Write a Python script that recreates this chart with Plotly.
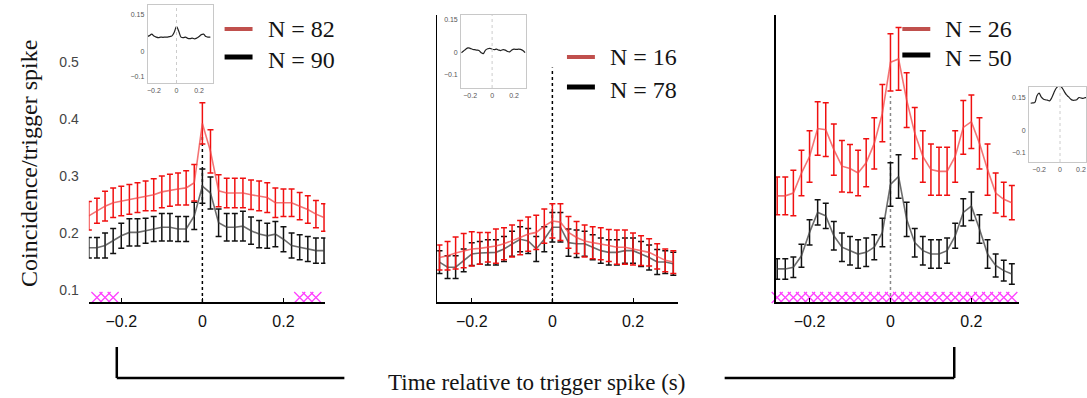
import plotly.graph_objects as go

W, H = 1087, 398

# time bins (s)
t = [-0.28, -0.26, -0.24, -0.22, -0.20, -0.18, -0.16, -0.14, -0.12, -0.10,
     -0.08, -0.06, -0.04, -0.02, 0.00, 0.02, 0.04, 0.06, 0.08, 0.10,
     0.12, 0.14, 0.16, 0.18, 0.20, 0.22, 0.24, 0.26, 0.28, 0.30]

# Panel 1
p1_red = [0.230, 0.239, 0.247, 0.253, 0.256, 0.259, 0.262, 0.265, 0.267, 0.272,
          0.275, 0.277, 0.279, 0.288, 0.392, 0.343, 0.274, 0.270, 0.270, 0.270,
          0.267, 0.265, 0.262, 0.253, 0.253, 0.253, 0.247, 0.241, 0.233, 0.227]
p1_red_err = [0.025, 0.022, 0.026, 0.026, 0.026, 0.026, 0.026, 0.026, 0.028, 0.028,
              0.028, 0.028, 0.030, 0.032, 0.036, 0.038, 0.028, 0.026, 0.026, 0.026,
              0.026, 0.026, 0.026, 0.026, 0.024, 0.024, 0.024, 0.024, 0.024, 0.024]
p1_blk = [0.174, 0.174, 0.178, 0.186, 0.195, 0.201, 0.201, 0.204, 0.207, 0.210,
          0.210, 0.207, 0.207, 0.230, 0.282, 0.270, 0.218, 0.210, 0.210, 0.212,
          0.204, 0.198, 0.195, 0.198, 0.189, 0.178, 0.175, 0.172, 0.169, 0.169]
p1_blk_err = [0.018, 0.018, 0.022, 0.022, 0.022, 0.024, 0.024, 0.022, 0.022, 0.024,
              0.024, 0.022, 0.022, 0.024, 0.030, 0.028, 0.024, 0.024, 0.024, 0.026,
              0.024, 0.024, 0.022, 0.022, 0.022, 0.022, 0.022, 0.022, 0.022, 0.022]
p1_sig = [-0.26, -0.24, -0.22, 0.24, 0.26, 0.28]

# Panel 2
p2_red = [0.157, 0.160, 0.165, 0.169, 0.172, 0.173, 0.175, 0.177, 0.181, 0.186,
          0.192, 0.198, 0.201, 0.212, 0.221, 0.219, 0.201, 0.192, 0.186, 0.183,
          0.181, 0.178, 0.175, 0.175, 0.172, 0.169, 0.166, 0.159, 0.152, 0.149]
p2_red_err = [0.022, 0.025, 0.028, 0.030, 0.030, 0.028, 0.026, 0.030, 0.028, 0.028,
              0.030, 0.030, 0.030, 0.030, 0.030, 0.032, 0.028, 0.028, 0.028, 0.028,
              0.028, 0.028, 0.030, 0.030, 0.028, 0.026, 0.024, 0.022, 0.020, 0.020]
p2_blk = [0.149, 0.140, 0.140, 0.152, 0.163, 0.165, 0.166, 0.166, 0.172, 0.181,
          0.189, 0.186, 0.172, 0.189, 0.210, 0.210, 0.183, 0.181, 0.181, 0.175,
          0.169, 0.166, 0.166, 0.169, 0.169, 0.163, 0.157, 0.149, 0.149, 0.146]
p2_blk_err = [0.020, 0.020, 0.020, 0.020, 0.020, 0.020, 0.022, 0.022, 0.022, 0.022,
              0.022, 0.022, 0.022, 0.022, 0.026, 0.026, 0.024, 0.024, 0.022, 0.022,
              0.022, 0.022, 0.022, 0.022, 0.022, 0.022, 0.022, 0.022, 0.020, 0.020]

# Panel 3
p3_red = [0.265, 0.265, 0.270, 0.305, 0.334, 0.383, 0.381, 0.346, 0.317, 0.313,
          0.305, 0.323, 0.357, 0.410, 0.499, 0.505, 0.433, 0.375, 0.334, 0.311,
          0.308, 0.308, 0.334, 0.385, 0.395, 0.357, 0.311, 0.270, 0.259, 0.253]
p3_red_err = [0.033, 0.033, 0.040, 0.040, 0.045, 0.047, 0.047, 0.045, 0.045, 0.042,
              0.040, 0.042, 0.045, 0.050, 0.050, 0.055, 0.048, 0.045, 0.045, 0.045,
              0.042, 0.042, 0.045, 0.047, 0.047, 0.045, 0.045, 0.035, 0.030, 0.030]
p3_blk = [0.137, 0.137, 0.140, 0.160, 0.201, 0.236, 0.230, 0.195, 0.175, 0.169,
          0.163, 0.166, 0.175, 0.201, 0.285, 0.299, 0.224, 0.183, 0.169, 0.163,
          0.163, 0.169, 0.195, 0.236, 0.247, 0.207, 0.163, 0.143, 0.134, 0.128]
p3_blk_err = [0.018, 0.018, 0.018, 0.020, 0.022, 0.022, 0.022, 0.025, 0.025, 0.025,
              0.025, 0.025, 0.022, 0.025, 0.038, 0.038, 0.030, 0.025, 0.025, 0.025,
              0.025, 0.022, 0.022, 0.024, 0.025, 0.025, 0.025, 0.020, 0.018, 0.018]
p3_sig = t

# inset traces
ins1 = [0.060, 0.062, 0.066, 0.072, 0.064, 0.060, 0.058, 0.060, 0.059, 0.060,
        0.060, 0.062, 0.065, 0.080, 0.102, 0.084, 0.060, 0.058, 0.060, 0.055,
        0.054, 0.056, 0.053, 0.056, 0.062, 0.070, 0.072, 0.062, 0.060, 0.060]
ins2 = [0.000, 0.008, 0.016, 0.022, 0.020, 0.016, 0.014, 0.012, 0.010, 0.000,
        -0.004, 0.012, 0.018, 0.020, 0.016, 0.014, 0.016, 0.012, 0.010, 0.014,
        0.012, 0.006, 0.004, 0.012, 0.016, 0.015, 0.016, 0.015, 0.010, 0.000]
ins3 = [0.126, 0.128, 0.130, 0.160, 0.172, 0.155, 0.146, 0.142, 0.140, 0.137,
        0.150, 0.172, 0.192, 0.202, 0.205, 0.196, 0.180, 0.165, 0.156, 0.146,
        0.140, 0.140, 0.142, 0.152, 0.150, 0.148, 0.152, 0.150, 0.150, 0.150]

legend_n = [("N = 82", "N = 90"), ("N = 16", "N = 78"), ("N = 26", "N = 50")]
main_ticks_y = [0.1, 0.2, 0.3, 0.4, 0.5]
main_ticks_x = [-0.2, 0, 0.2]


def px(x):
    return x / W


def py(y):
    return 1 - y / H


RED = "#f01010"
RED_LINE = "rgba(240,70,70,0.75)"
BLK = "#111111"
BLK_LINE = "rgba(60,60,60,0.75)"
MAG = "#ff40ff"

fig = go.Figure()

panels = [
    (p1_red, p1_red_err, p1_blk, p1_blk_err, p1_sig, "x", "y"),
    (p2_red, p2_red_err, p2_blk, p2_blk_err, [], "x2", "y2"),
    (p3_red, p3_red_err, p3_blk, p3_blk_err, p3_sig, "x3", "y3"),
]
for red, rerr, blk, berr, sig, xa, ya in panels:
    fig.add_trace(go.Scatter(x=t, y=blk, mode="lines", xaxis=xa, yaxis=ya,
                             line=dict(color=BLK_LINE, width=1.6),
                             error_y=dict(type="data", array=berr, color=BLK,
                                          thickness=1.5, width=3),
                             showlegend=False, hoverinfo="skip"))
    fig.add_trace(go.Scatter(x=t, y=red, mode="lines", xaxis=xa, yaxis=ya,
                             line=dict(color=RED_LINE, width=1.6),
                             error_y=dict(type="data", array=rerr, color=RED,
                                          thickness=1.5, width=3),
                             showlegend=False, hoverinfo="skip"))
    if sig:
        fig.add_trace(go.Scatter(x=sig, y=[0.087] * len(sig), mode="markers",
                                 xaxis=xa, yaxis=ya, cliponaxis=False,
                                 marker=dict(symbol="x-thin", size=11,
                                             line=dict(color=MAG, width=1.3)),
                                 showlegend=False, hoverinfo="skip"))

# insets
for vals, xa, ya in [(ins1, "x4", "y4"), (ins2, "x5", "y5"), (ins3, "x6", "y6")]:
    fig.add_trace(go.Scatter(x=t, y=vals, mode="lines", xaxis=xa, yaxis=ya,
                             line=dict(color="#222222", width=1.2, shape="spline"),
                             showlegend=False, hoverinfo="skip"))

YR = [0.079, 0.582]
ydom = [py(302), py(15)]
tickfont_x = dict(family="Liberation Sans, Arial, sans-serif", size=16, color="#111")
tickfont_y = dict(family="Liberation Sans, Arial, sans-serif", size=14, color="#444")

main_x = [("xaxis", [88, 325], [-0.280, 0.3034]),
          ("xaxis2", [437, 678], [-0.2857, 0.311]),
          ("xaxis3", [776, 1020], [-0.284, 0.318])]
layout = {}
for i, (name, dom, rng) in enumerate(main_x):
    yname = "y" if i == 0 else f"y{i+1}"
    layout[name] = dict(domain=[px(dom[0]), px(dom[1])], range=rng, anchor=yname,
                        showgrid=False, zeroline=False, showline=True,
                        linecolor="black", linewidth=1.5, ticks="inside",
                        ticklen=4, tickcolor="black", tickvals=main_ticks_x,
                        tickfont=tickfont_x, ticklabelstandoff=4)
    yax = "yaxis" if i == 0 else f"yaxis{i+1}"
    xname = "x" if i == 0 else f"x{i+1}"
    layout[yax] = dict(domain=ydom, range=YR, anchor=xname, showgrid=False,
                       zeroline=False, showline=(i > 0), linecolor="black",
                       linewidth=1.5, ticks="", tickvals=main_ticks_y,
                       showticklabels=(i == 0), tickfont=tickfont_y,
                       ticklabelstandoff=9)

inset_font = dict(family="Liberation Sans, Arial, sans-serif", size=7, color="#555555")
insets = [("4", [147, 212], [5, 83], [-0.255, 0.32], [-0.126, 0.19]),
          ("5", [461, 526], [15, 88], [-0.282, 0.309], [-0.162, 0.173]),
          ("6", [1030, 1087], [87, 162], [-0.295, 0.248], [-0.141, 0.20])]
for k, xd, yd, xr, yr in insets:
    layout[f"xaxis{k}"] = dict(domain=[px(xd[0]), px(xd[1])], range=xr,
                               anchor=f"y{k}", showgrid=False, zeroline=False,
                               showline=True, mirror=True, linecolor="#c8c8c8",
                               linewidth=1, ticks="", tickvals=[-0.2, 0, 0.2],
                               ticktext=["−0.2", "0", "0.2"], tickfont=inset_font,
                               ticklabelstandoff=1)
    layout[f"yaxis{k}"] = dict(domain=[py(yd[1]), py(yd[0])], range=yr,
                               anchor=f"x{k}", showgrid=False, zeroline=False,
                               showline=True, mirror=True, linecolor="#c8c8c8",
                               linewidth=1, ticks="", tickvals=[0.15, 0, -0.1],
                               ticktext=["0.15", "0", "−0.1"], tickfont=inset_font,
                               ticklabelstandoff=1)

shapes = []
# zero dotted lines in main panels
for xr, yr, y0, y1, col in [("x", "y", 0.079, 0.37, "black"),
                            ("x2", "y2", 0.079, 0.49, "black"),
                            ("x3", "y3", 0.079, 0.44, "#888888")]:
    shapes.append(dict(type="line", xref=xr, yref=yr, x0=0, x1=0, y0=y0, y1=y1,
                       line=dict(color=col, width=1.5, dash="dot"), layer="below"))
for k, yr in [("4", [-0.126, 0.19]), ("5", [-0.162, 0.173]), ("6", [-0.141, 0.20])]:
    shapes.append(dict(type="line", xref=f"x{k}", yref=f"y{k}", x0=0, x1=0,
                       y0=yr[0], y1=yr[1],
                       line=dict(color="#cccccc", width=1, dash="dot")))

# legends
annotations = []
leg_pos = [(224, 29, 57), (567, 57, 87), (903, 29, 55)]
serif = "Liberation Serif, Times New Roman, serif"
for (x0, yr_, yb_), (tr, tb) in zip(leg_pos, legend_n):
    shapes.append(dict(type="line", xref="paper", yref="paper", x0=px(x0),
                       x1=px(x0 + 28), y0=py(yr_), y1=py(yr_),
                       line=dict(color="#c0504d", width=4)))
    shapes.append(dict(type="line", xref="paper", yref="paper", x0=px(x0),
                       x1=px(x0 + 28), y0=py(yb_), y1=py(yb_),
                       line=dict(color="black", width=5)))
    for txt, yy in [(tr, yr_), (tb, yb_ + 3)]:
        annotations.append(dict(text=txt, xref="paper", yref="paper",
                                x=px(x0 + 41), y=py(yy), xanchor="left",
                                yanchor="middle", showarrow=False,
                                font=dict(family=serif, size=24, color="#141414")))

# bottom bracket
for x0, y0, x1, y1 in [(116, 347, 116, 378), (116, 378, 344, 378),
                       (725, 378, 955, 378), (955, 347, 955, 378)]:
    shapes.append(dict(type="line", xref="paper", yref="paper", x0=px(x0),
                       x1=px(x1), y0=py(y0), y1=py(y1),
                       line=dict(color="black", width=2.5)))

annotations.append(dict(text="Time relative to trigger spike (s)", xref="paper",
                        yref="paper", x=px(536), y=py(382), xanchor="center",
                        yanchor="middle", showarrow=False,
                        font=dict(family=serif, size=23, color="#141414")))
annotations.append(dict(text="Coincidence/trigger spike", xref="paper",
                        yref="paper", x=px(28), y=py(163), xanchor="center",
                        yanchor="middle", textangle=-90, showarrow=False,
                        font=dict(family=serif, size=24, color="#141414")))

fig.update_layout(width=W, height=H, margin=dict(l=0, r=0, t=0, b=0),
                  paper_bgcolor="white", plot_bgcolor="rgba(0,0,0,0)",
                  shapes=shapes, annotations=annotations, showlegend=False,
                  **layout)

fig.write_html("out.html",
               config={"displayModeBar": False, "staticPlot": True},
               post_script="document.body.style.margin='0';"
                           "document.body.style.padding='0';"
                           "document.body.style.overflow='hidden';")
